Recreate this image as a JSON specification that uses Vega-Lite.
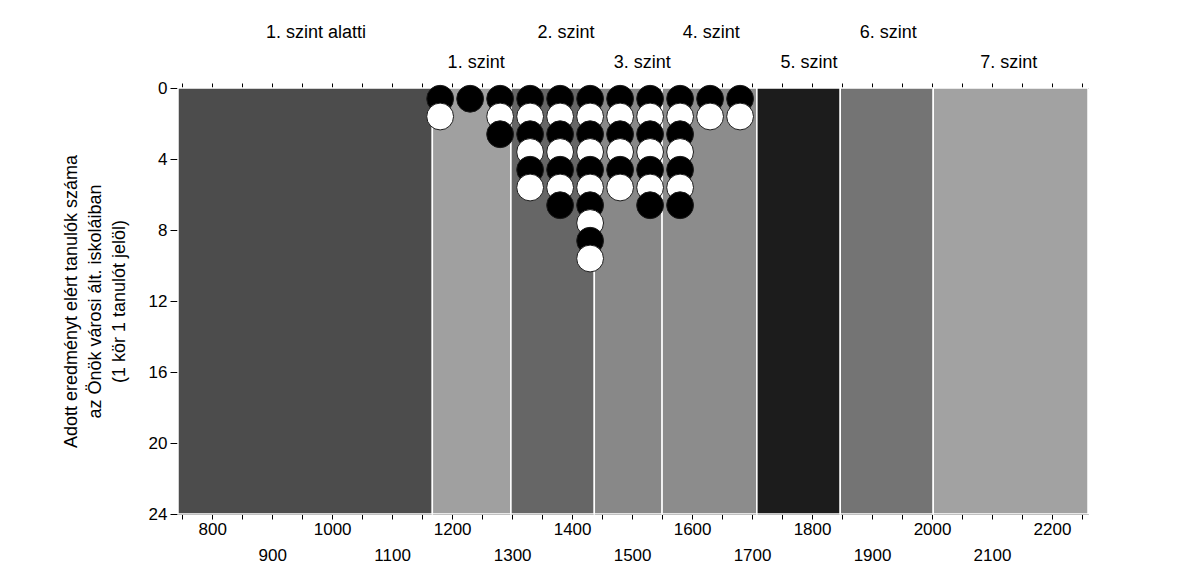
{
  "$schema": "https://vega.github.io/schema/vega-lite/v6.json",
  "width": 910,
  "height": 426,
  "autosize": {"type": "none"},
  "padding": {"left": 178, "top": 88, "right": 114, "bottom": 60},
  "background": "white",
  "config": {
    "view": {"stroke": null},
    "font": "Liberation Sans",
    "axis": {"domainColor": "black", "tickColor": "black", "labelColor": "black", "titleColor": "black", "grid": false, "labelFont": "Liberation Sans", "titleFont": "Liberation Sans"}
  },
  "datasets": {
    "szintek": [
      {"szint": "1. szint alatti", "tol": 743, "ig": 1167},
      {"szint": "1. szint", "tol": 1167, "ig": 1298},
      {"szint": "2. szint", "tol": 1298, "ig": 1437},
      {"szint": "3. szint", "tol": 1437, "ig": 1550},
      {"szint": "4. szint", "tol": 1550, "ig": 1708},
      {"szint": "5. szint", "tol": 1708, "ig": 1847},
      {"szint": "6. szint", "tol": 1847, "ig": 2002},
      {"szint": "7. szint", "tol": 2002, "ig": 2260}
    ],
    "cimkek": [
      {"szint": "1. szint alatti", "kozep": 973, "sor": 1},
      {"szint": "1. szint", "kozep": 1240, "sor": 2},
      {"szint": "2. szint", "kozep": 1390, "sor": 1},
      {"szint": "3. szint", "kozep": 1517, "sor": 2},
      {"szint": "4. szint", "kozep": 1632, "sor": 1},
      {"szint": "5. szint", "kozep": 1795, "sor": 2},
      {"szint": "6. szint", "kozep": 1927, "sor": 1},
      {"szint": "7. szint", "kozep": 2128, "sor": 2}
    ],
    "tanulok": [
      {"pont": 1180, "sorszam": 1, "csoport": "1"},
      {"pont": 1180, "sorszam": 2, "csoport": "2"},
      {"pont": 1230, "sorszam": 1, "csoport": "1"},
      {"pont": 1280, "sorszam": 1, "csoport": "1"},
      {"pont": 1280, "sorszam": 2, "csoport": "2"},
      {"pont": 1280, "sorszam": 3, "csoport": "1"},
      {"pont": 1330, "sorszam": 1, "csoport": "1"},
      {"pont": 1330, "sorszam": 2, "csoport": "2"},
      {"pont": 1330, "sorszam": 3, "csoport": "1"},
      {"pont": 1330, "sorszam": 4, "csoport": "2"},
      {"pont": 1330, "sorszam": 5, "csoport": "1"},
      {"pont": 1330, "sorszam": 6, "csoport": "2"},
      {"pont": 1380, "sorszam": 1, "csoport": "1"},
      {"pont": 1380, "sorszam": 2, "csoport": "2"},
      {"pont": 1380, "sorszam": 3, "csoport": "1"},
      {"pont": 1380, "sorszam": 4, "csoport": "2"},
      {"pont": 1380, "sorszam": 5, "csoport": "1"},
      {"pont": 1380, "sorszam": 6, "csoport": "2"},
      {"pont": 1380, "sorszam": 7, "csoport": "1"},
      {"pont": 1430, "sorszam": 1, "csoport": "1"},
      {"pont": 1430, "sorszam": 2, "csoport": "2"},
      {"pont": 1430, "sorszam": 3, "csoport": "1"},
      {"pont": 1430, "sorszam": 4, "csoport": "2"},
      {"pont": 1430, "sorszam": 5, "csoport": "1"},
      {"pont": 1430, "sorszam": 6, "csoport": "2"},
      {"pont": 1430, "sorszam": 7, "csoport": "1"},
      {"pont": 1430, "sorszam": 8, "csoport": "2"},
      {"pont": 1430, "sorszam": 9, "csoport": "1"},
      {"pont": 1430, "sorszam": 10, "csoport": "2"},
      {"pont": 1480, "sorszam": 1, "csoport": "1"},
      {"pont": 1480, "sorszam": 2, "csoport": "2"},
      {"pont": 1480, "sorszam": 3, "csoport": "1"},
      {"pont": 1480, "sorszam": 4, "csoport": "2"},
      {"pont": 1480, "sorszam": 5, "csoport": "1"},
      {"pont": 1480, "sorszam": 6, "csoport": "2"},
      {"pont": 1530, "sorszam": 1, "csoport": "1"},
      {"pont": 1530, "sorszam": 2, "csoport": "2"},
      {"pont": 1530, "sorszam": 3, "csoport": "1"},
      {"pont": 1530, "sorszam": 4, "csoport": "2"},
      {"pont": 1530, "sorszam": 5, "csoport": "1"},
      {"pont": 1530, "sorszam": 6, "csoport": "2"},
      {"pont": 1530, "sorszam": 7, "csoport": "1"},
      {"pont": 1580, "sorszam": 1, "csoport": "1"},
      {"pont": 1580, "sorszam": 2, "csoport": "2"},
      {"pont": 1580, "sorszam": 3, "csoport": "1"},
      {"pont": 1580, "sorszam": 4, "csoport": "2"},
      {"pont": 1580, "sorszam": 5, "csoport": "1"},
      {"pont": 1580, "sorszam": 6, "csoport": "2"},
      {"pont": 1580, "sorszam": 7, "csoport": "1"},
      {"pont": 1630, "sorszam": 1, "csoport": "1"},
      {"pont": 1630, "sorszam": 2, "csoport": "2"},
      {"pont": 1680, "sorszam": 1, "csoport": "1"},
      {"pont": 1680, "sorszam": 2, "csoport": "2"}
    ]
  },
  "resolve": {"axis": {"x": "independent"}, "scale": {"y": "independent", "color": "independent"}},
  "layer": [
    {
      "data": {"name": "szintek"},
      "mark": {"type": "rect", "stroke": "white", "strokeWidth": 1.5},
      "encoding": {
        "x": {
          "field": "tol", "type": "quantitative",
          "scale": {"domain": [743, 2260], "nice": false, "zero": false},
          "axis": {
            "orient": "bottom", "title": null,
            "values": [750, 800, 850, 900, 950, 1000, 1050, 1100, 1150, 1200, 1250, 1300, 1350, 1400, 1450, 1500, 1550, 1600, 1650, 1700, 1750, 1800, 1850, 1900, 1950, 2000, 2050, 2100, 2150, 2200, 2250],
            "labelExpr": "datum.value % 100 === 0 ? datum.label : ''",
            "format": "d",
            "labelOverlap": false,
            "labelFontSize": 17,
            "tickSize": 5,
            "labelPadding": {"condition": {"test": "datum.value % 200 === 100", "value": 28}, "value": 2}
          }
        },
        "x2": {"field": "ig"},
        "color": {
          "field": "szint", "type": "nominal",
          "scale": {
            "domain": ["1. szint alatti", "1. szint", "2. szint", "3. szint", "4. szint", "5. szint", "6. szint", "7. szint"],
            "range": ["#4c4c4c", "#a0a0a0", "#666666", "#888888", "#8c8c8c", "#1c1c1c", "#747474", "#a2a2a2"]
          },
          "legend": null
        }
      }
    },
    {
      "data": {"name": "tanulok"},
      "mark": {"type": "circle", "size": 720, "opacity": 1, "stroke": "#1a1a1a", "strokeWidth": 1, "yOffset": -7},
      "encoding": {
        "x": {
          "field": "pont", "type": "quantitative",
          "axis": {
            "orient": "top", "title": null, "labels": false,
            "values": [750, 800, 850, 900, 950, 1000, 1050, 1100, 1150, 1200, 1250, 1300, 1350, 1400, 1450, 1500, 1550, 1600, 1650, 1700, 1750, 1800, 1850, 1900, 1950, 2000, 2050, 2100, 2150, 2200, 2250],
            "tickSize": 5
          }
        },
        "y": {
          "field": "sorszam", "type": "quantitative",
          "scale": {"domain": [0, 24], "reverse": true, "nice": false, "zero": true},
          "axis": {
            "values": [0, 4, 8, 12, 16, 20, 24],
            "tickSize": 8,
            "labelPadding": 3,
            "labelFontSize": 17,
            "title": ["Adott eredményt elért tanulók száma", "az Önök városi ált. iskoláiban", "(1 kör 1 tanulót jelöl)"],
            "titleFontSize": 18,
            "titleFontWeight": "normal",
            "titleLineHeight": 24,
            "titlePadding": 20
          }
        },
        "color": {
          "field": "csoport", "type": "nominal",
          "scale": {"domain": ["1", "2"], "range": ["#000000", "#ffffff"]},
          "legend": null
        }
      }
    },
    {
      "data": {"name": "cimkek"},
      "mark": {"type": "text", "fontSize": 18, "color": "black", "baseline": "middle", "align": "center"},
      "encoding": {
        "x": {"field": "kozep", "type": "quantitative", "axis": null},
        "y": {
          "field": "sor", "type": "ordinal",
          "scale": {"type": "point", "domain": [1, 2], "range": [-55, -25], "padding": 0},
          "axis": null
        },
        "text": {"field": "szint"}
      }
    }
  ]
}
